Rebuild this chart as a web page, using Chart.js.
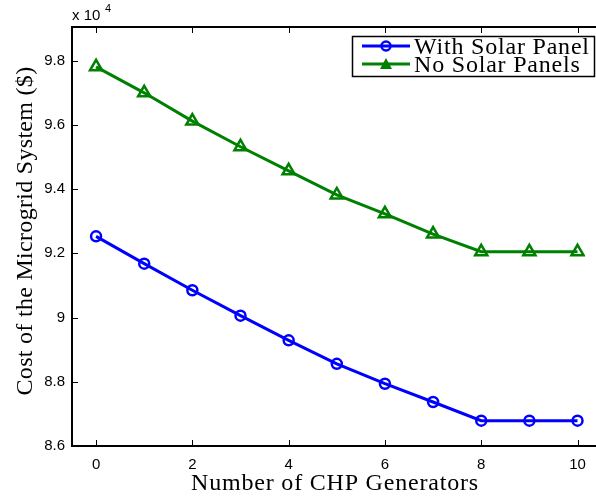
<!DOCTYPE html>
<html>
<head>
<meta charset="utf-8">
<script src="https://cdn.jsdelivr.net/npm/chart.js@4"></script>
<style>
  html, body { margin: 0; padding: 0; background: #fff; }
  #wrap { width: 596px; height: 498px; }
</style>
</head>
<body>
<div id="wrap"><canvas id="myChart" width="596" height="498"></canvas></div>
<script>
// number of CHP generators
const generators = [0, 1, 2, 3, 4, 5, 6, 7, 8, 9, 10];
// cost in $ (axis shown in units of 10^4)
const withSolar = [92530, 91680, 90850, 90060, 89290, 88560, 87940, 87370, 86790, 86790, 86790];
const noSolar = [97810, 97000, 96120, 95320, 94570, 93820, 93230, 92600, 92050, 92050, 92050];
const xTicks = [0, 2, 4, 6, 8, 10];
const yTicks = [86000, 88000, 90000, 92000, 94000, 96000, 98000];
const xTitle = 'Number of CHP Generators';
const yTitle = 'Cost of the Microgrid System ($)';

const serif = '"Liberation Serif", "DejaVu Serif", serif';
const sans = '"Liberation Sans", Arial, sans-serif';

function pts(arr) {
  return generators.map((g, i) => ({ x: g, y: arr[i] }));
}

// MATLAB style box: inward ticks, axis titles, "x 10^4" and the legend
const matlabBits = {
  id: 'matlabBits',
  afterDraw(chart) {
    const c = chart.ctx;
    const a = chart.chartArea;
    const xs = chart.scales.x, ys = chart.scales.y;
    const W = chart.width;
    c.save();
    c.strokeStyle = '#000';
    c.lineWidth = 2;
    c.beginPath();
    c.moveTo(a.left, a.top); c.lineTo(W, a.top);
    c.moveTo(a.right - 1, a.bottom); c.lineTo(W, a.bottom);
    c.stroke();
    c.lineWidth = 1;
    c.beginPath();
    xTicks.forEach(t => {
      const px = Math.round(xs.getPixelForValue(t)) + 0.5;
      c.moveTo(px, a.bottom); c.lineTo(px, a.bottom - 6);
      c.moveTo(px, a.top); c.lineTo(px, a.top + 6);
    });
    yTicks.forEach(t => {
      const py = Math.round(ys.getPixelForValue(t)) + 0.5;
      c.moveTo(a.left, py); c.lineTo(a.left + 6, py);
    });
    c.stroke();

    // axis titles
    c.fillStyle = '#000';
    c.font = '24px ' + serif;
    c.textAlign = 'center';
    c.textBaseline = 'alphabetic';
    c.letterSpacing = '0.8px';
    c.fillText(xTitle, 335, 490);
    c.save();
    c.translate(32, 231);
    c.rotate(-Math.PI / 2);
    c.letterSpacing = '0.3px';
    c.fillText(yTitle, 0, 0);
    c.restore();
    c.letterSpacing = '0px';
    c.textAlign = 'left';

    // exponent label
    c.font = '15px ' + sans;
    c.fillText('x 10', 72, 20);
    c.font = '11px ' + sans;
    c.fillText('4', 105, 12);

    // legend box
    const lx = 352, ly = 36, lw = 244, lh = 40;
    c.fillStyle = '#fff';
    c.fillRect(lx, ly, lw, lh);
    c.lineWidth = 1.5;
    c.strokeStyle = '#000';
    c.strokeRect(lx + 0.5, ly + 0.5, lw - 2, lh);
    const rows = [
      { label: 'With Solar Panel', color: '#0000ff', y: ly + 10, shape: 'circle' },
      { label: 'No Solar Panels', color: '#008000', y: ly + 28, shape: 'triangle' }
    ];
    rows.forEach(r => {
      c.strokeStyle = r.color;
      c.lineWidth = 3;
      c.beginPath();
      c.moveTo(lx + 10, r.y); c.lineTo(lx + 58, r.y);
      c.stroke();
      c.lineWidth = 2.5;
      c.beginPath();
      if (r.shape === 'circle') {
        c.arc(lx + 34, r.y, 4.5, 0, Math.PI * 2);
        c.stroke();
      } else {
        c.fillStyle = r.color;
        c.moveTo(lx + 34, r.y - 6);
        c.lineTo(lx + 40, r.y + 5);
        c.lineTo(lx + 28, r.y + 5);
        c.closePath();
        c.fill();
      }
      c.fillStyle = '#000';
      c.font = '24px ' + serif;
      c.letterSpacing = '0.8px';
      c.fillText(r.label, lx + 62, r.y + 8);
      c.letterSpacing = '0px';
    });
    c.restore();
  }
};

const ctx = document.getElementById('myChart').getContext('2d');
const chart = new Chart(ctx, {
  type: 'line',
  data: {
    datasets: [{
      label: 'With Solar Panel',
      data: pts(withSolar),
      borderColor: '#0000ff',
      backgroundColor: 'rgba(0,0,0,0)',
      borderWidth: 3,
      pointStyle: 'circle',
      pointRadius: 5,
      pointBorderWidth: 2.5,
      pointBorderColor: '#0000ff',
      pointBackgroundColor: 'rgba(0,0,0,0)',
      tension: 0
    }, {
      label: 'No Solar Panels',
      data: pts(noSolar),
      borderColor: '#008000',
      backgroundColor: 'rgba(0,0,0,0)',
      borderWidth: 3,
      pointStyle: 'triangle',
      pointRadius: 7,
      pointBorderWidth: 2.5,
      pointBorderColor: '#008000',
      pointBackgroundColor: 'rgba(0,0,0,0)',
      tension: 0
    }]
  },
  options: {
    responsive: false,
    animation: false,
    layout: { padding: { top: 27, right: 0, left: 0, bottom: 0 } },
    plugins: {
      legend: { display: false },
      tooltip: { enabled: false }
    },
    scales: {
      x: {
        type: 'linear',
        min: -0.5,
        max: 10.16,
        afterBuildTicks: (s) => { s.ticks = xTicks.map(v => ({ value: v })); },
        afterFit: (s) => { s.height = 52; },
        grid: { display: false, drawTicks: false },
        border: { display: true, color: '#000', width: 2 },
        ticks: {
          color: '#000',
          font: { family: sans, size: 15 },
          padding: 10,
          maxRotation: 0
        }
      },
      y: {
        min: 86000,
        max: 99050,
        afterBuildTicks: (s) => { s.ticks = yTicks.map(v => ({ value: v })); },
        afterFit: (s) => { s.width = 72; },
        grid: { display: false, drawTicks: false },
        border: { display: true, color: '#000', width: 2 },
        ticks: {
          color: '#000',
          font: { family: sans, size: 15 },
          padding: 7,
          callback: (v) => String(+(v / 10000).toFixed(1))
        }
      }
    }
  },
  plugins: [matlabBits]
});
</script>
</body>
</html>
